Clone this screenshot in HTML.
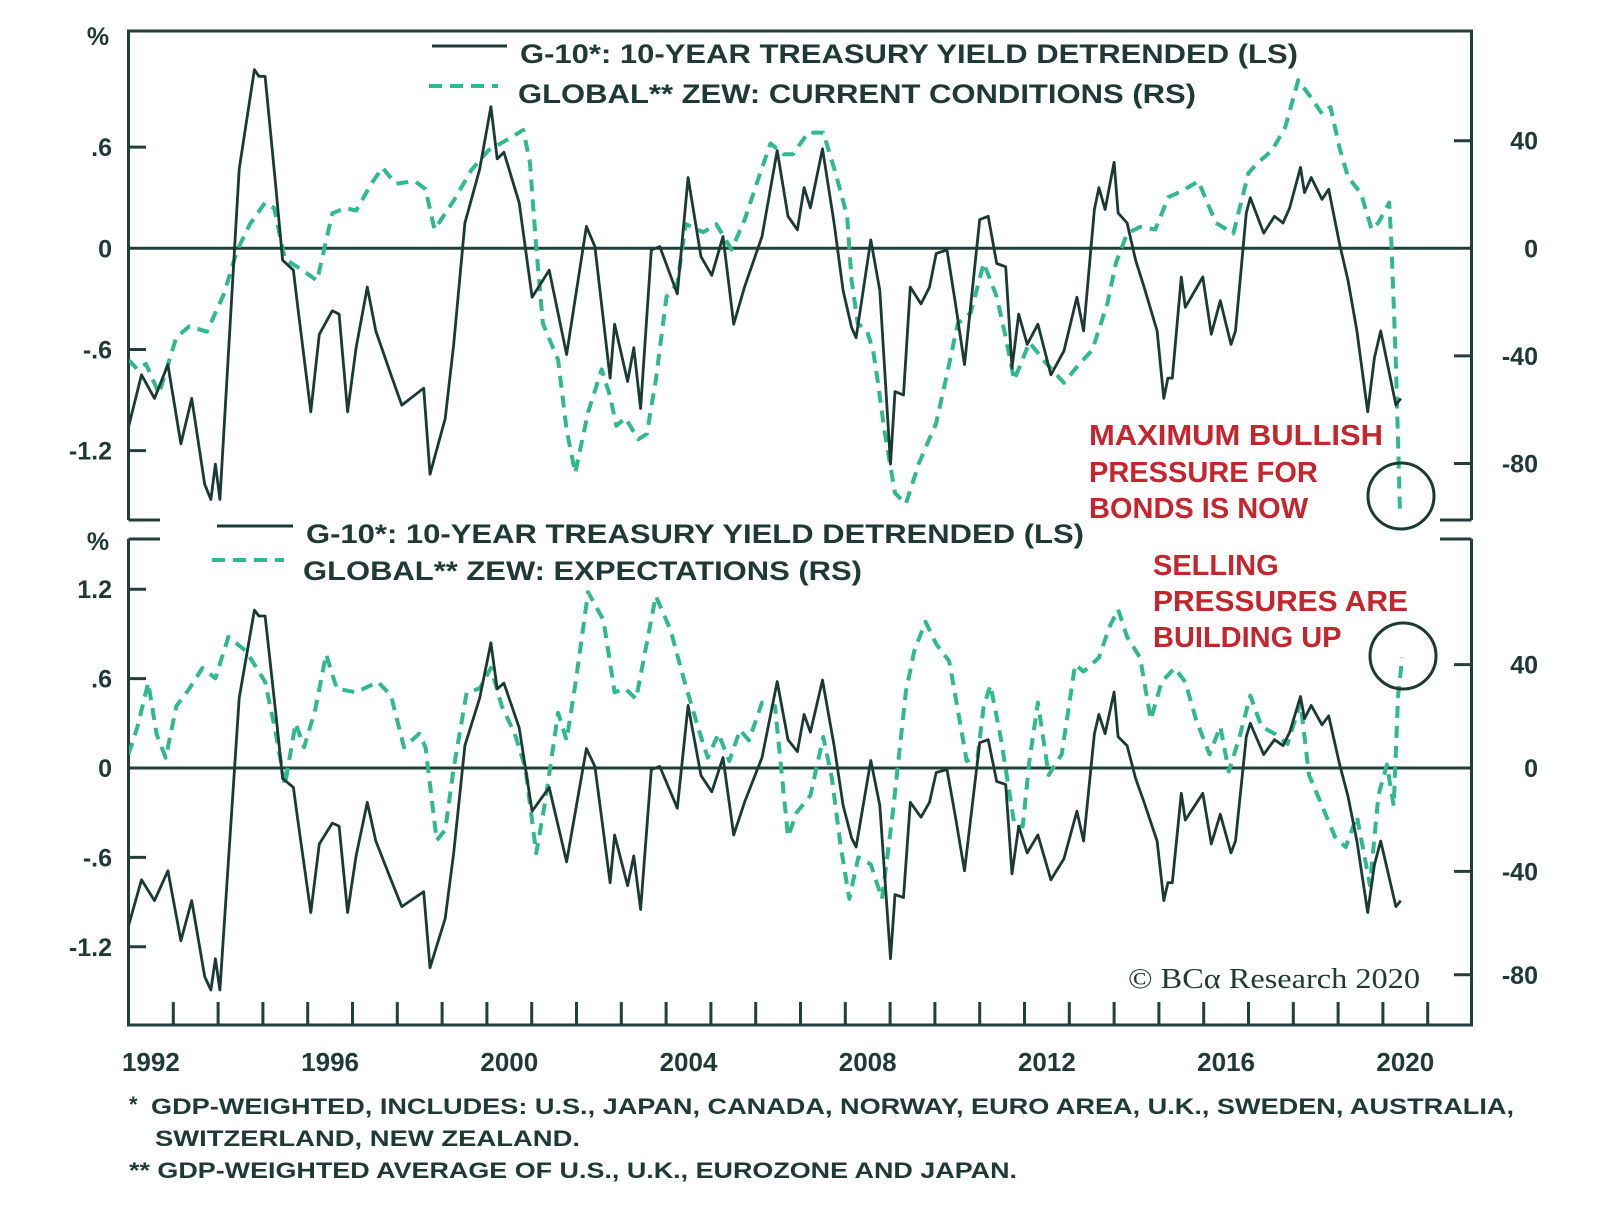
<!DOCTYPE html>
<html><head><meta charset="utf-8"><style>
html,body{margin:0;padding:0;background:#fff;}
svg{display:block;font-family:"Liberation Sans",sans-serif;}
.t{fill:#1f3a36;font-weight:bold;}
.red{fill:#c4262e;font-weight:bold;font-size:29px;}
</style></head><body>
<svg id="chart" width="1600" height="1211" viewBox="0 0 1600 1211" xmlns="http://www.w3.org/2000/svg">
<rect width="1600" height="1211" fill="#fff"/>
<defs>
<clipPath id="clipTop"><rect x="129" y="31" width="1342" height="489"/></clipPath>
<clipPath id="clipBot"><rect x="129" y="540" width="1342" height="484"/></clipPath>
</defs>
<g id="frames" stroke="#22403b" stroke-width="3" fill="none">
<path d="M128.5 520 V31 H1471.5 V520"/>
<path d="M128.5 520 H160 M1440 520 H1471.5"/>
<path d="M128.5 539 H160 M1440 539 H1471.5"/>
<path d="M128.5 539 V1025 H1471.5 V539"/>
</g>
<g id="layer"></g>
<text class="t" x="98" y="45" font-size="25" text-anchor="middle">%</text>
<text class="t" x="98" y="550" font-size="25" text-anchor="middle">%</text>
<g>
<line x1="432" y1="46" x2="507" y2="46" stroke="#1c3a35" stroke-width="3"/>
<text class="t" x="520" y="63" font-size="27" textLength="778" lengthAdjust="spacingAndGlyphs">G-10*: 10-YEAR TREASURY YIELD DETRENDED (LS)</text>
<line x1="429" y1="86" x2="498" y2="86" stroke="#2fba8c" stroke-width="4" stroke-dasharray="13,8"/>
<text class="t" x="518" y="103" font-size="27" textLength="678" lengthAdjust="spacingAndGlyphs">GLOBAL** ZEW: CURRENT CONDITIONS (RS)</text>
</g>
<g>
<line x1="217" y1="526" x2="293" y2="526" stroke="#1c3a35" stroke-width="3"/>
<text class="t" x="306" y="543" font-size="27" textLength="778" lengthAdjust="spacingAndGlyphs">G-10*: 10-YEAR TREASURY YIELD DETRENDED (LS)</text>
<line x1="212" y1="560" x2="284" y2="560" stroke="#2fba8c" stroke-width="4" stroke-dasharray="13,8"/>
<text class="t" x="303" y="580" font-size="27" textLength="559" lengthAdjust="spacingAndGlyphs">GLOBAL** ZEW: EXPECTATIONS (RS)</text>
</g>
<g>
<text class="red" x="1089" y="445" textLength="294" lengthAdjust="spacingAndGlyphs">MAXIMUM BULLISH</text>
<text class="red" x="1089" y="482">PRESSURE FOR</text>
<text class="red" x="1089" y="518">BONDS IS NOW</text>
<circle cx="1401" cy="496" r="33" fill="none" stroke="#1c3a35" stroke-width="3"/>
</g>
<g>
<text class="red" x="1153" y="575">SELLING</text>
<text class="red" x="1153" y="611" textLength="255" lengthAdjust="spacingAndGlyphs">PRESSURES ARE</text>
<text class="red" x="1153" y="647">BUILDING UP</text>
<circle cx="1403" cy="656" r="33" fill="none" stroke="#1c3a35" stroke-width="3"/>
</g>
<text x="1128" y="988" font-family="'Liberation Serif',serif" font-size="28" fill="#1f3a36" textLength="292" lengthAdjust="spacingAndGlyphs">© BCα Research 2020</text>
<g class="t" font-size="22">
<text x="129" y="1112">*</text>
<text x="151" y="1114" textLength="1363" lengthAdjust="spacingAndGlyphs">GDP-WEIGHTED, INCLUDES: U.S., JAPAN, CANADA, NORWAY, EURO AREA, U.K., SWEDEN, AUSTRALIA,</text>
<text x="155" y="1146" textLength="425" lengthAdjust="spacingAndGlyphs">SWITZERLAND, NEW ZEALAND.</text>
<text x="129" y="1178" textLength="888" lengthAdjust="spacingAndGlyphs">** GDP-WEIGHTED AVERAGE OF U.S., U.K., EUROZONE AND JAPAN.</text>
</g>
</svg>
<script>
// ---- data ----
const yieldDates = [1992.00,1992.29,1992.58,1992.88,1993.17,1993.41,1993.70,1993.84,1993.94,1994.04,1994.47,1994.81,1994.91,1995.05,1995.29,1995.44,1995.68,1995.78,1996.07,1996.26,1996.55,1996.70,1996.89,1997.08,1997.33,1997.52,1997.86,1998.10,1998.59,1998.73,1999.07,1999.26,1999.51,1999.84,2000.09,2000.23,2000.38,2000.72,2001.01,2001.39,2001.78,2002.22,2002.41,2002.75,2002.85,2003.14,2003.28,2003.43,2003.67,2003.86,2004.25,2004.49,2004.78,2005.02,2005.27,2005.51,2005.75,2006.14,2006.48,2006.72,2006.93,2007.08,2007.22,2007.49,2007.75,2007.95,2008.14,2008.24,2008.57,2008.77,2009.01,2009.11,2009.30,2009.45,2009.69,2009.88,2010.03,2010.27,2010.46,2010.66,2011.00,2011.19,2011.38,2011.58,2011.72,2011.87,2012.06,2012.30,2012.59,2012.88,2013.17,2013.32,2013.56,2013.66,2013.80,2014.00,2014.09,2014.29,2014.48,2014.67,2014.96,2015.11,2015.20,2015.30,2015.50,2015.59,2015.98,2016.17,2016.37,2016.61,2016.71,2016.95,2017.04,2017.34,2017.58,2017.77,2017.92,2018.16,2018.25,2018.40,2018.64,2018.79,2019.03,2019.22,2019.42,2019.66,2019.81,2019.95,2020.29,2020.40];
const yieldValues = [-1.06,-0.75,-0.89,-0.69,-1.16,-0.89,-1.40,-1.49,-1.28,-1.49,0.47,1.06,1.02,1.02,0.36,-0.07,-0.13,-0.35,-0.97,-0.51,-0.37,-0.39,-0.97,-0.59,-0.23,-0.49,-0.75,-0.93,-0.83,-1.34,-1.01,-0.57,0.15,0.47,0.84,0.53,0.57,0.27,-0.29,-0.13,-0.63,0.13,0.01,-0.77,-0.45,-0.79,-0.59,-0.95,-0.01,0.01,-0.27,0.42,-0.05,-0.16,0.07,-0.45,-0.23,0.07,0.58,0.19,0.11,0.36,0.24,0.59,0.15,-0.25,-0.47,-0.53,0.05,-0.25,-1.28,-0.85,-0.87,-0.23,-0.33,-0.23,-0.03,-0.01,-0.33,-0.69,0.17,0.19,-0.09,-0.11,-0.71,-0.39,-0.57,-0.45,-0.75,-0.61,-0.29,-0.49,0.23,0.36,0.23,0.51,0.21,0.15,-0.07,-0.23,-0.49,-0.89,-0.77,-0.77,-0.17,-0.35,-0.17,-0.51,-0.31,-0.57,-0.49,0.21,0.30,0.09,0.19,0.15,0.24,0.48,0.33,0.42,0.29,0.35,0.03,-0.19,-0.49,-0.97,-0.65,-0.49,-0.93,-0.89];
const zewCurDates = [1992.00,1992.20,1992.39,1992.68,1993.07,1993.36,1993.75,1994.13,1994.42,1994.71,1995.05,1995.25,1995.49,1995.87,1996.21,1996.55,1996.84,1997.08,1997.42,1997.67,1997.96,1998.39,1998.63,1998.83,1999.27,1999.65,2000.04,2000.52,2000.81,2000.96,2001.10,2001.25,2001.59,2001.78,2001.97,2002.26,2002.56,2002.75,2002.89,2003.09,2003.38,2003.57,2003.77,2004.01,2004.25,2004.44,2004.83,2005.12,2005.46,2005.75,2006.04,2006.33,2006.62,2006.83,2007.17,2007.51,2007.80,2008.04,2008.14,2008.28,2008.48,2008.62,2008.72,2008.87,2009.11,2009.35,2009.64,2010.03,2010.32,2010.51,2010.80,2011.09,2011.38,2011.58,2011.77,2012.11,2012.50,2012.88,2013.22,2013.51,2013.85,2014.04,2014.29,2014.58,2014.92,2015.21,2015.54,2015.88,2016.08,2016.27,2016.66,2017.00,2017.19,2017.53,2017.82,2018.11,2018.40,2018.64,2018.83,2019.03,2019.22,2019.51,2019.75,2019.90,2020.14,2020.19,2020.29,2020.38];
const zewCurValues = [-41.5,-45,-43,-54,-33,-29,-31,-17,-1,9,17,15,-4,-8,-12,13,15,14,24,30,24,25,22,7,18,29,36.5,41,44,32,0.5,-28,-41.5,-67.5,-83.5,-61,-45,-55,-66,-63,-71,-69,-49,-18,-13,9,6,9,-0.5,10.5,25,39,35,35,43,43,27,12,-12,-28,-30.5,-38,-49,-67.5,-91,-95,-80,-65,-43,-28,-24,-5.5,-18,-33,-49,-35,-43,-50,-43,-38,-20.5,-5.5,5.5,8,7,19,21.5,25,17,9.5,5.5,28,31.5,36.5,45,62.5,56,50,52.5,37.5,26.5,20.5,7,9.5,17,2,-43,-97];
const zewExpDates = [1992.00,1992.20,1992.44,1992.63,1992.83,1993.07,1993.36,1993.65,1993.94,1994.23,1994.62,1994.86,1995.05,1995.29,1995.49,1995.73,1995.92,1996.17,1996.41,1996.65,1997.08,1997.57,1997.86,1998.15,1998.49,1998.63,1998.88,1999.07,1999.26,1999.55,1999.84,2000.09,2000.33,2000.62,2000.86,2001.10,2001.30,2001.59,2001.78,2001.97,2002.26,2002.60,2002.85,2003.09,2003.33,2003.77,2004.10,2004.39,2004.73,2004.93,2005.17,2005.41,2005.65,2005.85,2006.14,2006.43,2006.72,2006.91,2007.22,2007.51,2007.70,2007.90,2008.09,2008.29,2008.57,2008.82,2009.06,2009.35,2009.54,2009.79,2010.03,2010.32,2010.51,2010.71,2010.95,2011.09,2011.24,2011.48,2011.77,2011.96,2012.11,2012.30,2012.54,2012.83,2013.13,2013.32,2013.66,2013.90,2014.09,2014.29,2014.58,2014.82,2015.06,2015.35,2015.59,2015.83,2016.13,2016.37,2016.56,2016.80,2017.04,2017.29,2017.58,2017.87,2018.16,2018.35,2018.64,2018.93,2019.17,2019.42,2019.71,2019.90,2020.09,2020.24,2020.34,2020.43];
const zewExpValues = [5.3,16,33,13,4,24,30.7,38.7,34.7,50.7,45.3,38.7,33.3,13.3,-6.6,17.3,8,22.7,44,30.7,29.3,33.3,28,8,13.3,8,-28,-24,0,29.3,30.7,38.7,24,13.3,0,-33,-13.3,21.3,10.7,32,68,57.3,29.3,30.7,26.7,66.6,53.3,34.7,14.7,4,13.3,2.7,14.7,10.7,25.3,24,-26.6,-17.3,-10.6,12,-4,-30.6,-50.6,-34.6,-37.3,-50.6,-17.3,29.3,45.3,56.6,48,41.3,22.7,2.7,4,24,32,10.7,-21.3,-22.6,2.7,25.3,-2.7,5.3,40,37.3,42.7,54.7,61.3,50.7,42.7,18.7,33.3,38.7,33.3,18.7,5.3,16,-1.3,12,28,16,13.3,9.3,25.3,-2.7,-14.6,-26.6,-30.6,-18.6,-45.3,-10.6,1.3,-14.6,28,42.7];
const topLeftTicks = [0.6,0,-0.6,-1.2];
const topLeftLabels = [".6","0","-.6","-1.2"];
const topRightTicks = [40,0,-40,-80];
const botLeftTicks = [1.2,0.6,0,-0.6,-1.2];
const botLeftLabels = ["1.2",".6","0","-.6","-1.2"];
const botRightTicks = [40,0,-40,-80];
const yearLabels = [1992,1996,2000,2004,2008,2012,2016,2020];

// ---- scales ----
const X = t => 128.5 + (t - 1992) * 44.8;
const yTopL = v => 248.3 - v * 168.6;
const yTopR = v => 248.3 - v * 2.69;
const yBotL = v => 768 - v * 149;
const yBotR = v => 768 - v * 2.585;

const NS = "http://www.w3.org/2000/svg";
const layer = document.getElementById("layer");
function mk(tag, attrs, parent) {
  const e = document.createElementNS(NS, tag);
  for (const k in attrs) e.setAttribute(k, attrs[k]);
  (parent || layer).appendChild(e);
  return e;
}
function pathFrom(dates, vals, ys) {
  return dates.map((d, i) => (i ? "L" : "M") + X(d).toFixed(1) + " " + ys(vals[i]).toFixed(1)).join(" ");
}

// zero lines
let z1 = mk("line", {x1:128.5, x2:1471.5, y1:yTopL(0), y2:yTopL(0), stroke:"#22403b", "stroke-width":3});


let z2 = mk("line", {x1:128.5, x2:1471.5, y1:yBotL(0), y2:yBotL(0), stroke:"#22403b", "stroke-width":3});



// y ticks & labels
topLeftTicks.forEach((v, i) => {
  if (v !== 0) { const tk = mk("line", {x1:128.5, x2:146, y1:yTopL(v), y2:yTopL(v), stroke:"#22403b", "stroke-width":3});
    
     }
  const t = mk("text", {x:112, y:yTopL(v) + 9, "text-anchor":"end", "font-size":25, class:"t"});
  t.textContent = topLeftLabels[i];
  
  
});
topRightTicks.forEach(v => {
  if (v !== 0) { const tk = mk("line", {x1:1454, x2:1471.5, y1:yTopR(v), y2:yTopR(v), stroke:"#22403b", "stroke-width":3});
    
     }
  const t = mk("text", {x:1538, y:yTopR(v) + 9, "text-anchor":"end", "font-size":25, class:"t"});
  t.textContent = String(v);
  
  
});
botLeftTicks.forEach((v, i) => {
  if (v !== 0) { const tk = mk("line", {x1:128.5, x2:146, y1:yBotL(v), y2:yBotL(v), stroke:"#22403b", "stroke-width":3});
    
     }
  const t = mk("text", {x:112, y:yBotL(v) + 9, "text-anchor":"end", "font-size":25, class:"t"});
  t.textContent = botLeftLabels[i];
  
  
});
botRightTicks.forEach(v => {
  if (v !== 0) { const tk = mk("line", {x1:1454, x2:1471.5, y1:yBotR(v), y2:yBotR(v), stroke:"#22403b", "stroke-width":3});
    
     }
  const t = mk("text", {x:1538, y:yBotR(v) + 9, "text-anchor":"end", "font-size":25, class:"t"});
  t.textContent = String(v);
  
  
});

// x ticks (yearly) and labels
for (let yr = 1993; yr <= 2021; yr++) {
  const tk = mk("line", {x1:X(yr), x2:X(yr), y1:1025, y2:1002, stroke:"#22403b", "stroke-width":3});
  
  
}
yearLabels.forEach(yr => {
  const t = mk("text", {x:X(yr + 0.5), y:1071, "text-anchor":"middle", "font-size":26, class:"t"});
  t.textContent = String(yr);
  
  
});

// series
const gTop = mk("g", {"clip-path":"url(#clipTop)"});


const gBot = mk("g", {"clip-path":"url(#clipBot)"});



const zc = mk("path", {d:pathFrom(zewCurDates, zewCurValues, yTopR), fill:"none", stroke:"#2fba8c", "stroke-width":4, "stroke-dasharray":"12,8", "stroke-linejoin":"round"}, gTop);


const y1 = mk("path", {d:pathFrom(yieldDates, yieldValues, yTopL), fill:"none", stroke:"#1c3a35", "stroke-width":2.8, "stroke-linejoin":"round"}, gTop);



const ze = mk("path", {d:pathFrom(zewExpDates, zewExpValues, yBotR), fill:"none", stroke:"#2fba8c", "stroke-width":4, "stroke-dasharray":"12,8", "stroke-linejoin":"round"}, gBot);


const y2 = mk("path", {d:pathFrom(yieldDates, yieldValues, yBotL), fill:"none", stroke:"#1c3a35", "stroke-width":2.8, "stroke-linejoin":"round"}, gBot);


</script>
</body></html>
